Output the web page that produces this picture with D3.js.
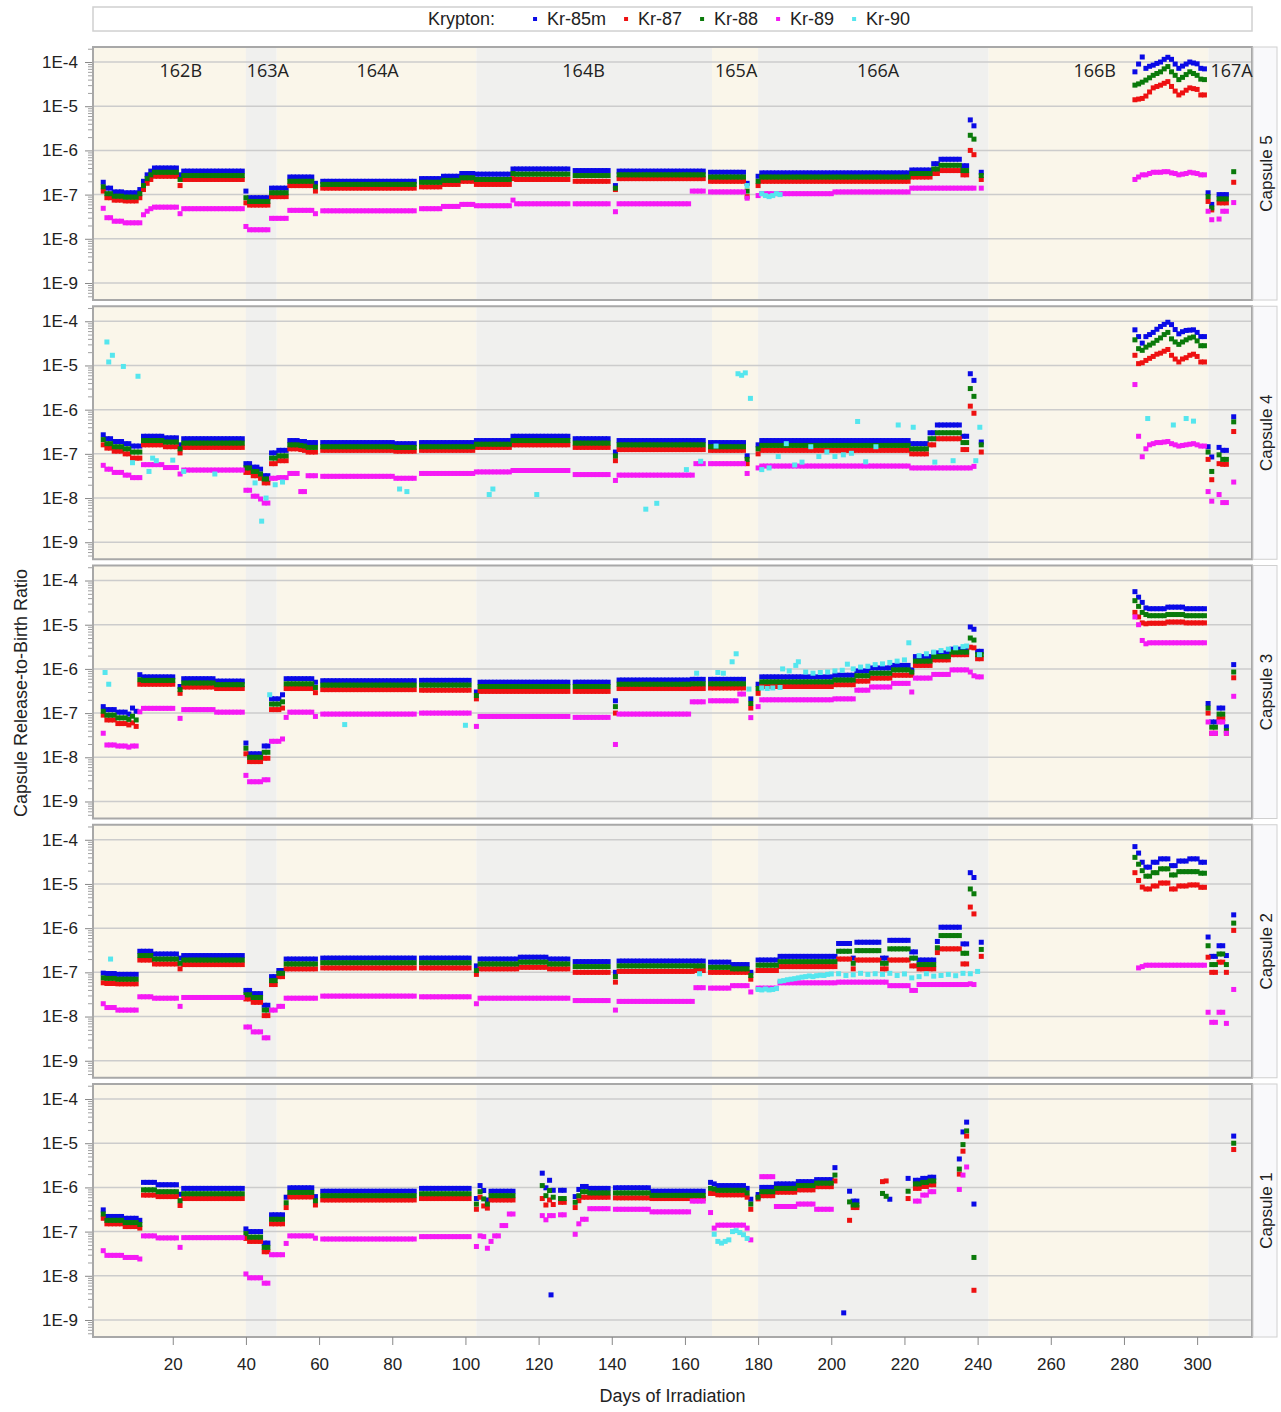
<!DOCTYPE html>
<html>
<head>
<meta charset="utf-8">
<script src="https://cdn.jsdelivr.net/npm/d3@7"></script>
<style>
  body { margin: 0; background: #fff; }
  svg { display: block; }
  text { font-family: "Liberation Sans", Arial, sans-serif; fill: #222; }
</style>
</head>
<body>
<svg id="chart" width="1281" height="1412"></svg>
<script>
// ---- Isotopes and legend ----
const isotopes = ["Kr-85m", "Kr-87", "Kr-88", "Kr-89", "Kr-90"];
const isotopeColors = ["#0a0ae6", "#ee1111", "#0a7a0a", "#f51af5", "#55e6ee"];

// ---- Irradiation cycles (days) ----
const cycleNames    = ["162B", "163A", "164A", "164B", "165A", "166A", "166B", "167A"];
const cycleStart    = [-1.8, 40, 48.4, 103, 167.4, 180, 243, 303.1];
const cycleEnd      = [40, 48.4, 103, 167.4, 180, 243, 303.1, 315];
const cycleLabelDay = [22.2, 46, 76, 132.3, 174, 212.8, 272, 309.4];

// ---- Axis ticks ----
const dayTicks = [20, 40, 60, 80, 100, 120, 140, 160, 180, 200, 220, 240, 260, 280, 300];
const decadeTicks = [1e-4, 1e-5, 1e-6, 1e-7, 1e-8, 1e-9];
const decadeLabels = ["1E-4", "1E-5", "1E-6", "1E-7", "1E-8", "1E-9"];

// ---- Release-to-birth ratios ----
// Each row: [first day, last day, Kr-85m, Kr-87, Kr-88, Kr-89], one reading per day in the run.
const capsule5Runs = [
  [1,1, 1.9e-7,1.2e-7,1.5e-7,4.9e-8],
  [2,3, 1.4e-7,8.5e-8,1.05e-7,3.0e-8],
  [4,6, 1.15e-7,7.5e-8,9.2e-8,2.5e-8],
  [7,10, 1.1e-7,7.2e-8,8.8e-8,2.3e-8],
  [11,11, 1.3e-7,8.5e-8,1.05e-7,2.3e-8],
  [12,12, 2.0e-7,1.3e-7,1.6e-7,3.5e-8],
  [13,13, 2.8e-7,1.8e-7,2.3e-7,4.2e-8],
  [14,14, 3.4e-7,2.2e-7,2.8e-7,4.8e-8],
  [15,21, 4.0e-7,2.6e-7,3.2e-7,5.2e-8],
  [22,22, 2.8e-7,1.6e-7,2.2e-7,3.7e-8],
  [23,39, 3.4e-7,2.2e-7,2.7e-7,4.8e-8],
  [40,40, 1.2e-7,6.5e-8,8.5e-8,1.9e-8],
  [41,46, 8.5e-8,5.8e-8,7.0e-8,1.6e-8],
  [47,51, 1.4e-7,9.0e-8,1.1e-7,2.9e-8],
  [52,58, 2.5e-7,1.6e-7,2.0e-7,4.4e-8],
  [59,59, 1.8e-7,1.2e-7,1.5e-7,3.7e-8],
  [61,86, 2.0e-7,1.4e-7,1.7e-7,4.3e-8],
  [88,93, 2.3e-7,1.5e-7,1.9e-7,4.8e-8],
  [94,98, 2.6e-7,1.7e-7,2.1e-7,5.4e-8],
  [99,102, 3.0e-7,2.0e-7,2.4e-7,6.0e-8],
  [103,112, 2.9e-7,1.7e-7,2.2e-7,5.6e-8],
  [113,113, 3.8e-7,2.3e-7,3.0e-7,7.5e-8],
  [114,128, 3.8e-7,2.2e-7,2.9e-7,6.2e-8],
  [130,139, 3.5e-7,2.0e-7,2.7e-7,6.2e-8],
  [141,141, 1.6e-7,1.3e-7,1.4e-7,4.1e-8],
  [142,161, 3.4e-7,2.3e-7,2.8e-7,6.2e-8],
  [162,165, 3.4e-7,2.3e-7,2.8e-7,1.2e-7],
  [167,176, 3.2e-7,2.0e-7,2.5e-7,1.15e-7],
  [177,177, 1.8e-7,9.0e-8,1.2e-7,8.3e-8],
  [180,180, 2.6e-7,1.6e-7,2.0e-7,9.5e-8],
  [181,200, 3.1e-7,2.0e-7,2.5e-7,1.05e-7],
  [201,221, 3.1e-7,2.0e-7,2.5e-7,1.15e-7],
  [222,227, 3.6e-7,2.5e-7,3.0e-7,1.4e-7],
  [228,229, 5.0e-7,3.0e-7,3.8e-7,1.4e-7],
  [230,235, 6.3e-7,3.5e-7,4.6e-7,1.4e-7],
  [236,237, 4.5e-7,2.8e-7,3.5e-7,1.4e-7],
  [238,238, 4.9e-6,1.0e-6,2.2e-6,1.4e-7],
  [239,239, 3.6e-6,8.0e-7,1.8e-6,1.4e-7],
  [241,241, 3.2e-7,2.2e-7,2.7e-7,1.4e-7],
  [283,283, 6.0e-5,1.4e-5,3.0e-5,2.2e-7],
  [284,284, 9.0e-5,1.45e-5,3.2e-5,2.5e-7],
  [285,285, 1.3e-4,1.5e-5,3.5e-5,2.8e-7],
  [286,286, 7.2e-5,1.7e-5,3.9e-5,2.8e-7],
  [287,287, 8.0e-5,2.1e-5,4.4e-5,3.0e-7],
  [288,288, 8.5e-5,2.6e-5,5.0e-5,3.2e-7],
  [289,289, 9.3e-5,2.8e-5,5.5e-5,3.2e-7],
  [290,290, 1.0e-4,3.0e-5,6.0e-5,3.2e-7],
  [291,291, 1.15e-4,3.3e-5,7.0e-5,3.3e-7],
  [292,292, 1.28e-4,3.6e-5,7.9e-5,3.3e-7],
  [293,293, 1.15e-4,2.8e-5,6.0e-5,3.1e-7],
  [294,294, 9.0e-5,2.2e-5,5.0e-5,3.0e-7],
  [295,295, 7.2e-5,1.8e-5,4.0e-5,2.8e-7],
  [296,296, 8.1e-5,2.0e-5,4.5e-5,2.9e-7],
  [297,297, 9.0e-5,2.3e-5,5.2e-5,3.0e-7],
  [298,298, 1.0e-4,2.6e-5,6.0e-5,3.2e-7],
  [299,299, 9.5e-5,2.5e-5,5.5e-5,3.1e-7],
  [300,300, 9.1e-5,2.4e-5,5.0e-5,3.0e-7],
  [301,301, 7.2e-5,1.8e-5,4.1e-5,2.8e-7],
  [302,302, 7.0e-5,1.8e-5,4.0e-5,2.8e-7],
  [303,303, 1.1e-7,7.0e-8,9.0e-8,4.2e-8],
  [304,304, 6.0e-8,4.5e-8,5.0e-8,2.7e-8],
  [306,306, 1.0e-7,6.5e-8,8.0e-8,2.8e-8],
  [307,308, 1.0e-7,6.5e-8,8.0e-8,4.2e-8],
  [310,310, null,1.9e-7,3.3e-7,6.6e-8]
];
const capsule5Kr90 = [[177,1.6e-7],[181,1.05e-7],[182,9.5e-8],[183,9.0e-8],[184,9.5e-8],[185,1.05e-7],[186,1.0e-7]];

const capsule4Runs = [
  [1,1, 2.7e-7,1.6e-7,2.1e-7,5.5e-8],
  [2,3, 2.2e-7,1.35e-7,1.7e-7,4.5e-8],
  [4,6, 1.9e-7,1.15e-7,1.45e-7,3.8e-8],
  [7,8, 1.7e-7,1.0e-7,1.3e-7,3.3e-8],
  [9,11, 1.5e-7,8.0e-8,1.1e-7,2.9e-8],
  [12,17, 2.5e-7,1.6e-7,2.0e-7,5.7e-8],
  [18,21, 2.3e-7,1.45e-7,1.85e-7,4.9e-8],
  [22,22, 1.6e-7,1.05e-7,1.3e-7,3.5e-8],
  [23,39, 2.2e-7,1.4e-7,1.75e-7,4.3e-8],
  [40,41, 6.0e-8,3.8e-8,4.8e-8,1.5e-8],
  [42,43, 5.0e-8,3.2e-8,4.0e-8,1.1e-8],
  [44,44, 4.5e-8,2.8e-8,3.5e-8,9.5e-9],
  [45,46, 3.2e-8,2.2e-8,2.7e-8,7.7e-9],
  [47,48, 1.05e-7,6.0e-8,8.0e-8,2.8e-8],
  [49,51, 1.2e-7,7.0e-8,9.0e-8,2.9e-8],
  [52,54, 2.0e-7,1.3e-7,1.6e-7,3.6e-8],
  [55,55, 1.9e-7,1.25e-7,1.55e-7,1.4e-8],
  [56,56, 1.9e-7,1.2e-7,1.5e-7,1.4e-8],
  [57,59, 1.8e-7,1.1e-7,1.4e-7,3.2e-8],
  [61,80, 1.8e-7,1.2e-7,1.45e-7,3.1e-8],
  [81,86, 1.7e-7,1.15e-7,1.4e-7,2.8e-8],
  [88,102, 1.8e-7,1.2e-7,1.45e-7,3.6e-8],
  [103,112, 2.0e-7,1.4e-7,1.65e-7,3.9e-8],
  [113,128, 2.5e-7,1.6e-7,2.0e-7,4.2e-8],
  [130,139, 2.2e-7,1.4e-7,1.75e-7,3.4e-8],
  [141,141, 1.1e-7,7.0e-8,9.0e-8,2.5e-8],
  [142,162, 2.0e-7,1.25e-7,1.6e-7,3.3e-8],
  [163,165, 2.0e-7,1.25e-7,1.6e-7,6.0e-8],
  [167,176, 1.8e-7,1.2e-7,1.45e-7,6.0e-8],
  [177,177, 9.0e-8,6.0e-8,7.5e-8,3.6e-8],
  [180,180, 1.6e-7,1.0e-7,1.3e-7,4.8e-8],
  [181,221, 2.0e-7,1.2e-7,1.55e-7,5.3e-8],
  [222,226, 1.7e-7,1.0e-7,1.3e-7,4.8e-8],
  [227,228, 3.0e-7,1.6e-7,2.2e-7,4.8e-8],
  [229,235, 4.5e-7,2.2e-7,3.0e-7,4.8e-8],
  [236,237, 2.5e-7,1.25e-7,1.8e-7,4.8e-8],
  [238,238, 6.5e-6,1.2e-6,3.0e-6,4.8e-8],
  [239,239, 4.6e-6,8.3e-7,2.0e-6,5.2e-8],
  [241,241, 1.85e-7,1.1e-7,1.6e-7,null],
  [283,283, 6.4e-5,1.7e-5,3.8e-5,3.7e-6],
  [284,284, 4.5e-5,1.1e-5,2.4e-5,2.5e-7],
  [285,285, 3.2e-5,1.15e-5,2.2e-5,8.6e-8],
  [286,286, 4.5e-5,1.3e-5,2.6e-5,1.3e-7],
  [287,287, 5.0e-5,1.45e-5,2.9e-5,1.6e-7],
  [288,288, 5.6e-5,1.6e-5,3.2e-5,1.7e-7],
  [289,289, 6.6e-5,1.8e-5,3.7e-5,1.8e-7],
  [290,290, 7.6e-5,1.9e-5,4.2e-5,1.8e-7],
  [291,291, 8.5e-5,2.1e-5,5.0e-5,1.85e-7],
  [292,292, 9.5e-5,2.3e-5,5.6e-5,1.9e-7],
  [293,293, 8.4e-5,1.7e-5,4.0e-5,1.7e-7],
  [294,294, 6.5e-5,1.4e-5,3.4e-5,1.6e-7],
  [295,295, 5.2e-5,1.2e-5,3.0e-5,1.5e-7],
  [296,296, 5.8e-5,1.4e-5,3.4e-5,1.55e-7],
  [297,297, 6.2e-5,1.5e-5,3.8e-5,1.6e-7],
  [298,298, 6.3e-5,1.7e-5,4.2e-5,1.65e-7],
  [299,299, 6.4e-5,1.8e-5,4.4e-5,1.7e-7],
  [300,300, 5.6e-5,1.6e-5,3.6e-5,1.6e-7],
  [301,301, 4.5e-5,1.2e-5,2.8e-5,1.5e-7],
  [302,302, 4.5e-5,1.2e-5,2.8e-5,1.5e-7],
  [303,303, 1.45e-7,7.5e-8,1.1e-7,1.4e-8],
  [304,304, 8.5e-8,2.6e-8,4.0e-8,8.5e-9],
  [306,306, 1.4e-7,6.0e-8,9.5e-8,1.2e-8],
  [307,308, 1.2e-7,5.8e-8,7.5e-8,7.9e-9],
  [310,310, 6.9e-7,3.2e-7,5.3e-7,2.3e-8]
];
const capsule4Kr90 = [
  [2,3.4e-5],[2.5,1.2e-5],[3.5,1.7e-5],[6.5,9.5e-6],[10.5,5.7e-6],[9,6.3e-8],[13.5,4.0e-8],
  [14.5,8.0e-8],[15.5,7.0e-8],[20,7.2e-8],[23,4.0e-8],[31.5,3.5e-8],[42.5,2.2e-8],[44.3,3.0e-9],
  [45.5,1.0e-8],[48,2.0e-8],[50,2.3e-8],[82,1.6e-8],[84,1.4e-8],[106.5,1.2e-8],[107.5,1.6e-8],
  [119.5,1.2e-8],[149.3,5.6e-9],[152.3,7.6e-9],[160.4,4.4e-8],[164.3,6.8e-8],[168.5,1.5e-7],
  [174.5,6.5e-6],[175.5,6.0e-6],[176.5,6.8e-6],[177.9,1.8e-6],[181,4.4e-8],[183,4.8e-8],
  [185.5,8.7e-8],[187.7,1.7e-7],[190,5.6e-8],[192,6.5e-8],[194.4,1.45e-7],[196.6,8.7e-8],
  [198.8,1.1e-7],[201,8.7e-8],[203.3,9.5e-8],[205.5,1.03e-7],[207.2,5.4e-7],[209.4,6.6e-8],
  [212.2,1.45e-7],[218.3,4.5e-7],[222.4,4.0e-7],[228.3,6.5e-8],[233.3,7.0e-8],[239.5,7.0e-8],
  [240.6,4.0e-7],[286.5,6.3e-7],[293.5,4.5e-7],[297,6.3e-7],[299,5.5e-7]
];

const capsule3Runs = [
  [1,1, 1.4e-7,9.0e-8,1.1e-7,3.5e-8],
  [2,4, 1.2e-7,7.0e-8,9.0e-8,1.9e-8],
  [5,7, 1.05e-7,5.8e-8,7.8e-8,1.8e-8],
  [8,8, 9.5e-8,5.4e-8,7.2e-8,1.7e-8],
  [9,9, 1.3e-7,6.0e-8,8.5e-8,1.8e-8],
  [10,10, 1.1e-7,5.0e-8,7.0e-8,1.8e-8],
  [11,11, 7.4e-7,4.5e-7,5.7e-7,1.07e-7],
  [12,20, 6.6e-7,4.5e-7,5.5e-7,1.28e-7],
  [22,22, 4.0e-7,2.8e-7,3.4e-7,7.6e-8],
  [23,31, 6.0e-7,3.9e-7,4.8e-7,1.2e-7],
  [32,39, 5.3e-7,3.6e-7,4.4e-7,1.05e-7],
  [40,40, 2.1e-8,1.2e-8,1.6e-8,3.9e-9],
  [41,44, 1.2e-8,8.0e-9,1.0e-8,2.8e-9],
  [45,46, 1.8e-8,9.5e-9,1.3e-8,3.1e-9],
  [47,49, 2.1e-7,1.2e-7,1.6e-7,2.3e-8],
  [50,50, 2.6e-7,1.3e-7,1.8e-7,2.6e-8],
  [51,51, 6.0e-7,3.6e-7,4.6e-7,8.0e-8],
  [52,58, 6.0e-7,3.6e-7,4.6e-7,1.05e-7],
  [59,59, 5.0e-7,2.9e-7,3.8e-7,8.4e-8],
  [61,86, 5.4e-7,3.4e-7,4.3e-7,9.5e-8],
  [88,101, 5.5e-7,3.3e-7,4.3e-7,1.0e-7],
  [103,103, 3.0e-7,2.1e-7,2.5e-7,5.0e-8],
  [104,128, 5.0e-7,3.1e-7,4.0e-7,8.4e-8],
  [130,139, 5.0e-7,3.1e-7,4.0e-7,8.0e-8],
  [141,141, 1.9e-7,1.0e-7,1.4e-7,1.95e-8],
  [142,161, 5.6e-7,3.6e-7,4.5e-7,9.5e-8],
  [162,165, 5.8e-7,3.6e-7,4.6e-7,1.8e-7],
  [167,174, 5.8e-7,3.7e-7,4.6e-7,1.9e-7],
  [175,176, 5.8e-7,3.7e-7,4.6e-7,2.7e-7],
  [178,178, 2.1e-7,1.3e-7,1.65e-7,7.9e-8],
  [180,180, 4.5e-7,2.8e-7,3.6e-7,1.4e-7],
  [181,200, 6.6e-7,4.0e-7,5.1e-7,2.0e-7],
  [201,206, 7.2e-7,4.4e-7,5.6e-7,2.1e-7],
  [207,210, 9.0e-7,5.3e-7,7.0e-7,3.3e-7],
  [211,216, 1.05e-6,6.2e-7,8.0e-7,3.9e-7],
  [217,221, 1.2e-6,7.2e-7,9.5e-7,4.7e-7],
  [222,222, 9.5e-7,7.2e-7,8.5e-7,3.0e-7],
  [223,227, 1.9e-6,1.2e-6,1.5e-6,6.2e-7],
  [228,232, 2.3e-6,1.6e-6,1.9e-6,7.5e-7],
  [233,237, 2.8e-6,2.1e-6,2.4e-6,9.5e-7],
  [238,238, 8.9e-6,3.1e-6,5.0e-6,8.5e-7],
  [239,239, 7.9e-6,3.0e-6,4.5e-6,7.0e-7],
  [240,241, 2.5e-6,1.7e-6,2.1e-6,6.6e-7],
  [283,283, 5.6e-5,1.9e-5,3.5e-5,1.5e-5],
  [284,284, 4.2e-5,1.5e-5,2.6e-5,1.0e-5],
  [285,285, 3.2e-5,1.1e-5,1.9e-5,4.4e-6],
  [286,286, 2.4e-5,1.05e-5,1.7e-5,3.7e-6],
  [287,291, 2.3e-5,1.08e-5,1.6e-5,3.9e-6],
  [292,296, 2.5e-5,1.15e-5,1.7e-5,3.9e-6],
  [297,302, 2.3e-5,1.1e-5,1.6e-5,3.9e-6],
  [303,303, 1.65e-7,1.0e-7,1.3e-7,6.3e-8],
  [304,305, 6.3e-8,3.5e-8,4.8e-8,3.5e-8],
  [306,307, 1.3e-7,7.5e-8,9.5e-8,6.3e-8],
  [308,308, 4.9e-8,3.5e-8,4.0e-8,3.5e-8],
  [310,310, 1.25e-6,6.3e-7,8.5e-7,2.4e-7]
];
const capsule3Kr90 = [
  [1.5,8.3e-7],[2.5,4.5e-7],[46.5,2.6e-7],[67,5.5e-8],[100,5.3e-8],[163.2,8.0e-7],[169,8.3e-7],
  [170.5,8.0e-7],[172.9,1.45e-6],[174,2.2e-6],[177.5,3.5e-7],[181,3.7e-7],[182.5,3.6e-7],
  [184,3.7e-7],[186,3.8e-7],[186.7,1.0e-6],[188.5,9.0e-7],[190.3,1.2e-6],[191,1.45e-6],
  [193,8.5e-7],[195,8.0e-7],[197,8.3e-7],[199,8.5e-7],[201,9.0e-7],[203,9.3e-7],[204.4,1.28e-6],
  [206,1.0e-6],[208,1.1e-6],[210,1.15e-6],[212,1.25e-6],[214,1.3e-6],[216,1.4e-6],[218,1.5e-6],
  [220,1.6e-6],[221.2,3.9e-6],[224,2.0e-6],[226,2.2e-6],[228,2.4e-6],[230,2.6e-6],[232,2.8e-6],
  [234,3.0e-6],[236,3.2e-6],[237,3.3e-6],[240.5,2.1e-6]
];

const capsule2Runs = [
  [1,1, 9.6e-8,5.8e-8,7.5e-8,1.95e-8],
  [2,4, 9.4e-8,5.6e-8,7.3e-8,1.6e-8],
  [5,10, 9.0e-8,5.5e-8,7.0e-8,1.4e-8],
  [11,14, 3.0e-7,1.9e-7,2.4e-7,2.8e-8],
  [15,21, 2.6e-7,1.55e-7,2.0e-7,2.6e-8],
  [22,22, 2.1e-7,1.2e-7,1.6e-7,1.7e-8],
  [23,39, 2.4e-7,1.5e-7,1.9e-7,2.7e-8],
  [40,41, 3.9e-8,2.5e-8,3.1e-8,5.8e-9],
  [42,44, 3.3e-8,2.1e-8,2.7e-8,4.5e-9],
  [45,46, 1.8e-8,1.05e-8,1.4e-8,3.3e-9],
  [47,48, 8.0e-8,5.3e-8,6.5e-8,1.4e-8],
  [49,50, 1.1e-7,8.0e-8,9.5e-8,1.7e-8],
  [51,59, 2.0e-7,1.2e-7,1.55e-7,2.6e-8],
  [61,86, 2.1e-7,1.26e-7,1.65e-7,2.9e-8],
  [88,101, 2.1e-7,1.26e-7,1.65e-7,2.8e-8],
  [103,103, 1.4e-7,9.0e-8,1.1e-7,1.95e-8],
  [104,114, 2.0e-7,1.2e-7,1.55e-7,2.6e-8],
  [115,122, 2.2e-7,1.3e-7,1.7e-7,2.6e-8],
  [123,128, 2.0e-7,1.2e-7,1.55e-7,2.6e-8],
  [130,139, 1.75e-7,1.0e-7,1.35e-7,2.3e-8],
  [141,141, 1.0e-7,6.0e-8,8.0e-8,1.4e-8],
  [142,162, 1.8e-7,1.05e-7,1.4e-7,2.2e-8],
  [163,165, 1.8e-7,1.1e-7,1.4e-7,4.5e-8],
  [167,172, 1.7e-7,1.0e-7,1.3e-7,4.4e-8],
  [173,177, 1.5e-7,1.0e-7,1.2e-7,5.0e-8],
  [178,178, 1.0e-7,7.0e-8,8.5e-8,3.6e-8],
  [180,185, 1.9e-7,1.1e-7,1.45e-7,4.4e-8],
  [186,201, 2.3e-7,1.35e-7,1.75e-7,5.8e-8],
  [202,205, 4.5e-7,2.0e-7,3.0e-7,6.0e-8],
  [206,206, 2.1e-7,1.2e-7,1.6e-7,6.0e-8],
  [207,213, 4.8e-7,1.9e-7,3.1e-7,6.0e-8],
  [214,215, 2.1e-7,1.2e-7,1.6e-7,6.0e-8],
  [216,221, 5.3e-7,1.9e-7,3.4e-7,5.0e-8],
  [222,223, 2.9e-7,1.4e-7,2.1e-7,3.9e-8],
  [224,228, 1.9e-7,1.2e-7,1.5e-7,5.3e-8],
  [229,229, 5.0e-7,2.8e-7,3.6e-7,5.3e-8],
  [230,235, 1.05e-6,3.4e-7,6.8e-7,5.3e-8],
  [236,237, 4.4e-7,1.55e-7,2.7e-7,5.3e-8],
  [238,238, 1.8e-5,3.0e-6,7.7e-6,5.5e-8],
  [239,239, 1.4e-5,2.1e-6,6.0e-6,5.3e-8],
  [241,241, 4.8e-7,2.3e-7,3.3e-7,null],
  [283,283, 7.0e-5,1.8e-5,4.0e-5,null],
  [284,284, 5.0e-5,1.2e-5,2.8e-5,1.26e-7],
  [285,285, 3.1e-5,8.5e-6,2.0e-5,1.35e-7],
  [286,287, 2.4e-5,7.7e-6,1.5e-5,1.45e-7],
  [288,289, 3.1e-5,9.0e-6,1.8e-5,1.45e-7],
  [290,292, 3.7e-5,1.05e-5,2.2e-5,1.45e-7],
  [293,294, 2.6e-5,7.7e-6,1.6e-5,1.45e-7],
  [295,297, 3.3e-5,9.0e-6,1.9e-5,1.45e-7],
  [298,300, 3.7e-5,9.5e-6,1.9e-5,1.45e-7],
  [301,302, 3.1e-5,8.4e-6,1.75e-5,1.45e-7],
  [303,303, 6.3e-7,2.2e-7,4.0e-7,1.25e-8],
  [304,305, 2.3e-7,1.0e-7,1.5e-7,7.4e-9],
  [306,307, 4.0e-7,1.7e-7,2.6e-7,1.25e-8],
  [308,308, 2.4e-7,1.0e-7,1.5e-7,7.0e-9],
  [310,310, 2.0e-6,8.9e-7,1.3e-6,4.1e-8]
];
const capsule2Kr90 = [
  [3,2.0e-7],[164,9.3e-8],[180,4.1e-8],[181,4.0e-8],[182,4.2e-8],[183,4.0e-8],[184,4.1e-8],
  [185,4.3e-8],[186,6.3e-8],[187,6.5e-8],[188,6.8e-8],[189,7.0e-8],[190,7.2e-8],[191,7.5e-8],
  [192,7.8e-8],[193,8.0e-8],[194,8.3e-8],[195,8.0e-8],[196,8.4e-8],[197,8.6e-8],[198,8.5e-8],
  [199,9.0e-8],[200,9.2e-8],[202,9.3e-8],[204,8.5e-8],[206,8.8e-8],[208,9.5e-8],[210,9.0e-8],
  [212,9.3e-8],[214,9.0e-8],[216,9.5e-8],[218,8.5e-8],[220,9.2e-8],[222,7.5e-8],[224,8.0e-8],
  [226,9.3e-8],[228,8.2e-8],[230,8.5e-8],[232,9.0e-8],[234,8.4e-8],[236,9.5e-8],[238,9.3e-8],
  [240,1.05e-7]
];

const capsule1Runs = [
  [1,1, 3.1e-7,2.0e-7,2.5e-7,3.7e-8],
  [2,6, 2.2e-7,1.5e-7,1.8e-7,2.9e-8],
  [7,10, 2.0e-7,1.3e-7,1.6e-7,2.6e-8],
  [11,11, 1.8e-7,1.2e-7,1.45e-7,2.4e-8],
  [12,15, 1.3e-6,6.7e-7,8.8e-7,8.0e-8],
  [16,21, 1.15e-6,6.2e-7,8.0e-7,7.2e-8],
  [22,22, 7.0e-7,3.9e-7,5.0e-7,4.4e-8],
  [23,39, 9.5e-7,5.6e-7,7.2e-7,7.3e-8],
  [40,40, 1.15e-7,7.0e-8,9.0e-8,1.1e-8],
  [41,44, 1.0e-7,6.0e-8,7.5e-8,9.0e-9],
  [45,46, 5.5e-8,3.5e-8,4.4e-8,6.8e-9],
  [47,50, 2.4e-7,1.5e-7,1.9e-7,3.0e-8],
  [51,51, 6.0e-7,3.5e-7,4.5e-7,5.4e-8],
  [52,58, 9.8e-7,6.1e-7,7.7e-7,8.0e-8],
  [59,59, 6.2e-7,4.0e-7,5.0e-7,7.1e-8],
  [61,86, 8.2e-7,5.2e-7,6.5e-7,6.8e-8],
  [88,101, 9.5e-7,5.6e-7,7.2e-7,7.7e-8],
  [103,103, 5.6e-7,3.2e-7,4.2e-7,4.6e-8],
  [104,104, 1.1e-6,6.0e-7,8.0e-7,8.0e-8],
  [105,105, 8.5e-7,3.8e-7,5.5e-7,7.7e-8],
  [106,106, 5.2e-7,3.4e-7,4.2e-7,4.2e-8],
  [107,107, 8.2e-7,5.2e-7,6.5e-7,6.0e-8],
  [108,109, 8.2e-7,5.2e-7,6.5e-7,8.0e-8],
  [110,111, 8.2e-7,5.2e-7,6.5e-7,1.37e-7],
  [112,113, 8.2e-7,5.2e-7,6.5e-7,2.5e-7],
  [121,121, 2.1e-6,5.6e-7,1.1e-6,2.3e-7],
  [122,122, 9.8e-7,4.0e-7,6.5e-7,1.85e-7],
  [123,123, 1.45e-6,5.2e-7,8.5e-7,2.3e-7],
  [123.4,123.4, 3.7e-9,null,null,null],
  [124,124, 8.6e-7,4.1e-7,6.0e-7,2.3e-7],
  [126,127, 8.6e-7,4.6e-7,5.6e-7,2.4e-7],
  [130,130, 6.2e-7,3.5e-7,4.6e-7,8.7e-8],
  [131,131, 9.0e-7,5.0e-7,6.5e-7,1.5e-7],
  [132,133, 1.05e-6,6.0e-7,8.0e-7,1.9e-7],
  [134,139, 9.5e-7,6.0e-7,7.5e-7,3.3e-7],
  [141,150, 9.8e-7,5.8e-7,7.5e-7,3.2e-7],
  [151,161, 8.2e-7,5.6e-7,6.6e-7,2.8e-7],
  [162,165, 8.2e-7,5.6e-7,6.6e-7,4.9e-7],
  [167,167, 1.3e-6,7.3e-7,9.5e-7,2.7e-7],
  [168,168, 1.2e-6,7.3e-7,9.2e-7,1.2e-7],
  [169,176, 1.1e-6,6.8e-7,8.6e-7,1.4e-7],
  [177,177, 9.5e-7,6.0e-7,7.5e-7,1.2e-7],
  [178,178, 5.4e-7,3.2e-7,4.2e-7,6.5e-8],
  [180,180, 6.9e-7,5.5e-7,6.0e-7,null],
  [181,184, 1.0e-6,6.5e-7,8.0e-7,1.75e-6],
  [185,190, 1.2e-6,7.8e-7,9.5e-7,3.7e-7],
  [191,195, 1.35e-6,8.8e-7,1.1e-6,4.2e-7],
  [196,200, 1.5e-6,1.04e-6,1.25e-6,3.2e-7],
  [201,201, 2.8e-6,1.4e-6,1.9e-6,null],
  [203.4,203.4, 1.45e-9,null,null,null],
  [205,205, 8.2e-7,1.8e-7,4.7e-7,null],
  [206,207, 4.9e-7,3.5e-7,4.0e-7,null],
  [214,214, null,1.35e-6,7.3e-7,null],
  [215,215, null,1.4e-6,6.3e-7,null],
  [216,216, 5.4e-7,null,null,null],
  [221,221, 1.6e-6,5.6e-7,8.2e-7,null],
  [223,224, 1.45e-6,9.5e-7,1.2e-6,4.9e-7],
  [225,226, 1.6e-6,1.05e-6,1.3e-6,6.7e-7],
  [227,228, 1.7e-6,1.15e-6,1.4e-6,8.0e-7],
  [235,235, 4.4e-6,2.0e-6,2.6e-6,9.0e-7],
  [236,236, 1.8e-5,6.6e-6,9.3e-6,1.9e-6],
  [237,237, 3.0e-5,1.45e-5,1.9e-5,2.9e-6],
  [239,239, 4.2e-7,4.7e-9,2.6e-8,null],
  [310,310, 1.45e-5,7.2e-6,1.0e-5,null]
];
const capsule1Kr90 = [[168,8.7e-8],[169,6.0e-8],[170,5.5e-8],[171,6.0e-8],[172,6.5e-8],[173,1.0e-7],[174,1.05e-7],[175,9.5e-8],[176,8.5e-8],[177,7.0e-8]];

// Panels from top to bottom
const capsuleNames = ["Capsule 5", "Capsule 4", "Capsule 3", "Capsule 2", "Capsule 1"];
const capsuleRuns = [capsule5Runs, capsule4Runs, capsule3Runs, capsule2Runs, capsule1Runs];
const capsuleKr90 = [capsule5Kr90, capsule4Kr90, capsule3Kr90, capsule2Kr90, capsule1Kr90];

// ---- Layout ----
const svg = d3.select("#chart");
const plotLeft = 93, plotRight = 1252;
const panelTop0 = 47, panelStep = 259.25, panelH = 253;
const cream = "#faf6ea", grey = "#f0f0ee";
const mark = 5;

const x = d3.scaleLinear().domain([-1.8, 315]).range([plotLeft, plotRight]);

// Expand each run into daily readings
function expand(runs, kr90) {
  const pts = [];
  runs.forEach(r => {
    for (let d = r[0]; d <= r[1] + 1e-9; d += 1) {
      for (let k = 0; k < 4; k++) {
        if (r[2 + k] != null) pts.push({ day: d, value: r[2 + k], iso: k });
      }
    }
  });
  kr90.forEach(p => pts.push({ day: p[0], value: p[1], iso: 4 }));
  pts.sort((a, b) => a.iso - b.iso);
  return pts;
}

// Minor tick values (2..9 per decade)
const minorTicks = [];
for (let e = -10; e <= -4; e++) for (let m = 2; m <= 9; m++) minorTicks.push(m * Math.pow(10, e));

capsuleNames.forEach((name, i) => {
  const top = panelTop0 + i * panelStep;
  const bottom = top + panelH;
  const y = d3.scaleLog().domain([Math.pow(10, -9.385), Math.pow(10, -3.66)]).range([bottom, top]);
  const g = svg.append("g");

  const clipId = "clip" + i;
  svg.append("clipPath").attr("id", clipId)
    .append("rect").attr("x", plotLeft).attr("y", top).attr("width", plotRight - plotLeft).attr("height", panelH);

  // cycle backgrounds
  g.selectAll("rect.band").data(cycleNames).join("rect")
    .attr("x", (d, j) => x(cycleStart[j]))
    .attr("width", (d, j) => x(cycleEnd[j]) - x(cycleStart[j]))
    .attr("y", top).attr("height", panelH)
    .attr("fill", (d, j) => j % 2 === 0 ? cream : grey);

  // decade gridlines
  g.selectAll("line.grid").data(decadeTicks).join("line")
    .attr("x1", plotLeft).attr("x2", plotRight)
    .attr("y1", d => y(d)).attr("y2", d => y(d))
    .attr("stroke", "#cccccc").attr("stroke-width", 1.5);

  // y axis: minor then major ticks
  const minorAxis = d3.axisLeft(y).tickValues(minorTicks.filter(v => v >= y.domain()[0] && v <= y.domain()[1]))
    .tickSize(5).tickFormat("");
  const ma = g.append("g").attr("transform", `translate(${plotLeft},0)`).call(minorAxis);
  ma.select(".domain").remove();
  ma.selectAll("line").attr("stroke", "#a0a0a0");

  const majorAxis = d3.axisLeft(y).tickValues(decadeTicks).tickSize(8).tickPadding(7)
    .tickFormat((d, j) => decadeLabels[j]);
  const mj = g.append("g").attr("transform", `translate(${plotLeft},0)`).call(majorAxis);
  mj.select(".domain").remove();
  mj.selectAll("line").attr("stroke", "#888");
  mj.selectAll("text").attr("font-size", 17).attr("font-family", '"Liberation Sans", Arial, sans-serif').attr("fill", "#222");

  // data markers
  const pts = expand(capsuleRuns[i], capsuleKr90[i]);
  g.append("g").attr("clip-path", `url(#${clipId})`)
    .selectAll("rect").data(pts).join("rect")
    .attr("x", d => x(d.day) - mark / 2).attr("y", d => y(d.value) - mark / 2)
    .attr("width", mark).attr("height", mark)
    .attr("fill", d => isotopeColors[d.iso]);

  // panel frame
  g.append("rect").attr("x", plotLeft).attr("y", top).attr("width", plotRight - plotLeft).attr("height", panelH)
    .attr("fill", "none").attr("stroke", "#a8a8a8").attr("stroke-width", 2);

  // capsule strip on the right
  g.append("rect").attr("x", plotRight + 1).attr("y", top).attr("width", 24).attr("height", panelH)
    .attr("fill", "#f9f9fb").attr("stroke", "#d0d0d0").attr("stroke-width", 1);
  g.append("text")
    .attr("transform", `translate(${plotRight + 14},${top + panelH / 2}) rotate(-90)`)
    .attr("text-anchor", "middle").attr("dominant-baseline", "central")
    .attr("font-size", 17).text(name);

  // cycle names in the top panel
  if (i === 0) {
    g.selectAll("text.cycle").data(cycleNames).join("text")
      .attr("x", (d, j) => x(cycleLabelDay[j])).attr("y", top + 23)
      .attr("text-anchor", "middle").attr("dominant-baseline", "central")
      .style("font-family", '"Open Sans", "Noto Sans", sans-serif').attr("font-size", 18)
      .text(d => d);
  }

  // x axis under the bottom panel
  if (i === capsuleNames.length - 1) {
    const xa = g.append("g").attr("transform", `translate(0,${bottom})`)
      .call(d3.axisBottom(x).tickValues(dayTicks).tickSize(8).tickPadding(13));
    xa.select(".domain").remove();
    xa.selectAll("line").attr("stroke", "#888");
    xa.selectAll("text").attr("font-size", 17).attr("font-family", '"Liberation Sans", Arial, sans-serif').attr("fill", "#222");
  }
});

// axis titles
svg.append("text").attr("x", (plotLeft + plotRight) / 2).attr("y", 1396)
  .attr("text-anchor", "middle").attr("dominant-baseline", "central")
  .attr("font-size", 18).text("Days of Irradiation");
svg.append("text").attr("transform", "translate(21,693) rotate(-90)")
  .attr("text-anchor", "middle").attr("dominant-baseline", "central")
  .attr("font-size", 18).text("Capsule Release-to-Birth Ratio");

// legend
const lg = svg.append("g");
lg.append("rect").attr("x", plotLeft).attr("y", 7).attr("width", plotRight - plotLeft).attr("height", 24)
  .attr("fill", "#fff").attr("stroke", "#d0d0d0").attr("stroke-width", 1.5);
const title = lg.append("text").attr("x", 428).attr("y", 19).attr("dominant-baseline", "central")
  .attr("font-size", 18).text("Krypton:");
let cx = 428 + title.node().getComputedTextLength() + 40;
isotopes.forEach((name, k) => {
  lg.append("rect").attr("x", cx - 2).attr("y", 17).attr("width", 4).attr("height", 4).attr("fill", isotopeColors[k]);
  const t = lg.append("text").attr("x", cx + 12).attr("y", 19).attr("dominant-baseline", "central")
    .attr("font-size", 18).text(name);
  cx += 12 + t.node().getComputedTextLength() + 20;
});
</script>
</body>
</html>
